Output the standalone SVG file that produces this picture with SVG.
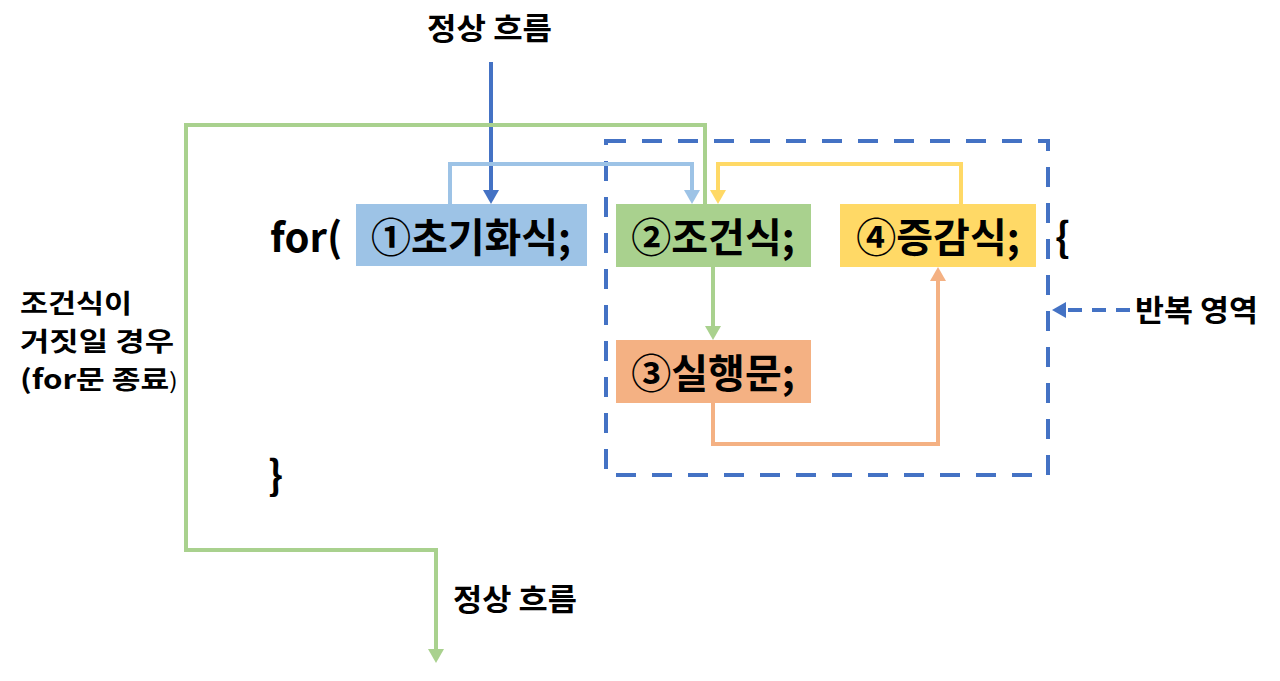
<svg xmlns="http://www.w3.org/2000/svg" width="1280" height="681" viewBox="0 0 1280 681">
<style>
text{font-family:"Noto Sans CJK KR","Noto Sans",sans-serif;font-weight:bold;fill:#000}
.big{font-size:40px}
.lbl{font-size:30px}
.side{font-size:26px}
.c{fill:none;stroke-width:4}
</style>
<defs>
<marker id="aBlue" markerUnits="userSpaceOnUse" markerWidth="16" markerHeight="16" refX="0" refY="8" orient="auto"><path d="M0,0 L14,8 L0,16 z" fill="#4472C4"/></marker>
<marker id="aLB" markerUnits="userSpaceOnUse" markerWidth="16" markerHeight="16" refX="0" refY="8" orient="auto"><path d="M0,0 L14,8 L0,16 z" fill="#9DC3E6"/></marker>
<marker id="aY" markerUnits="userSpaceOnUse" markerWidth="16" markerHeight="16" refX="0" refY="8" orient="auto"><path d="M0,0 L14,8 L0,16 z" fill="#FFD966"/></marker>
<marker id="aG" markerUnits="userSpaceOnUse" markerWidth="16" markerHeight="16" refX="0" refY="8" orient="auto"><path d="M0,0 L14,8 L0,16 z" fill="#A9D18E"/></marker>
<marker id="aO" markerUnits="userSpaceOnUse" markerWidth="16" markerHeight="16" refX="0" refY="8" orient="auto"><path d="M0,0 L14,8 L0,16 z" fill="#F4B183"/></marker>
</defs>
<rect width="1280" height="681" fill="#fff"/>
<g id="loop-area">
<rect x="606" y="141" width="442" height="334" fill="none" stroke="#4472C4" stroke-width="4" stroke-dasharray="20 16"/>
</g>
<g id="connectors">
<path class="c" d="M491,62 V190" stroke="#4472C4" marker-end="url(#aBlue)"/>
<path class="c" d="M450,204 V164 H692 V190" stroke="#9DC3E6" marker-end="url(#aLB)"/>
<path class="c" d="M961,204 V164 H718 V190" stroke="#FFD966" marker-end="url(#aY)"/>
<path class="c" d="M705,204 V125 H186 V550 H436 V649" stroke="#A9D18E" marker-end="url(#aG)"/>
<path class="c" d="M713,267 V326" stroke="#A9D18E" marker-end="url(#aG)"/>
<path class="c" d="M713,403 V444 H938 V281" stroke="#F4B183" marker-end="url(#aO)"/>
<path class="c" d="M1130,310 H1066" stroke="#4472C4" stroke-width="3" stroke-dasharray="14 10" marker-end="url(#aBlue)"/>
</g>
<g id="for-open"><text class="big" x="270" y="252">for(</text></g>
<g id="init">
<rect x="356" y="204" width="231" height="62" fill="#9DC3E6"/>
<text class="big" x="471" y="252" text-anchor="middle">①초기화식;</text>
</g>
<g id="cond">
<rect x="616" y="204" width="195" height="63" fill="#A9D18E"/>
<text class="big" x="713" y="252" text-anchor="middle">②조건식;</text>
</g>
<g id="incr">
<rect x="840" y="204" width="196" height="63" fill="#FFD966"/>
<text class="big" x="938" y="252" text-anchor="middle">④증감식;</text>
</g>
<g id="brace-open"><text class="big" x="1055" y="252">{</text></g>
<g id="body">
<rect x="616" y="340" width="195" height="63" fill="#F4B183"/>
<text class="big" x="713" y="388" text-anchor="middle">③실행문;</text>
</g>
<g id="brace-close"><text class="big" x="268" y="490">}</text></g>
<g id="label-top"><text class="lbl" x="427" y="39" textLength="125" lengthAdjust="spacingAndGlyphs">정상 흐름</text></g>
<g id="label-bottom"><text class="lbl" x="453" y="610" textLength="124" lengthAdjust="spacingAndGlyphs">정상 흐름</text></g>
<g id="label-false">
<text class="side" x="20" y="313" textLength="112" lengthAdjust="spacingAndGlyphs">조건식이</text>
<text class="side" x="20" y="351" textLength="154" lengthAdjust="spacingAndGlyphs">거짓일 경우</text>
<text class="side" x="20" y="389" textLength="158" lengthAdjust="spacingAndGlyphs">(for문 종료<tspan font-size="22" font-weight="normal">)</tspan></text>
</g>
<g id="label-loop"><text class="lbl" x="1135" y="321" textLength="123" lengthAdjust="spacingAndGlyphs">반복 영역</text></g>
</svg>
